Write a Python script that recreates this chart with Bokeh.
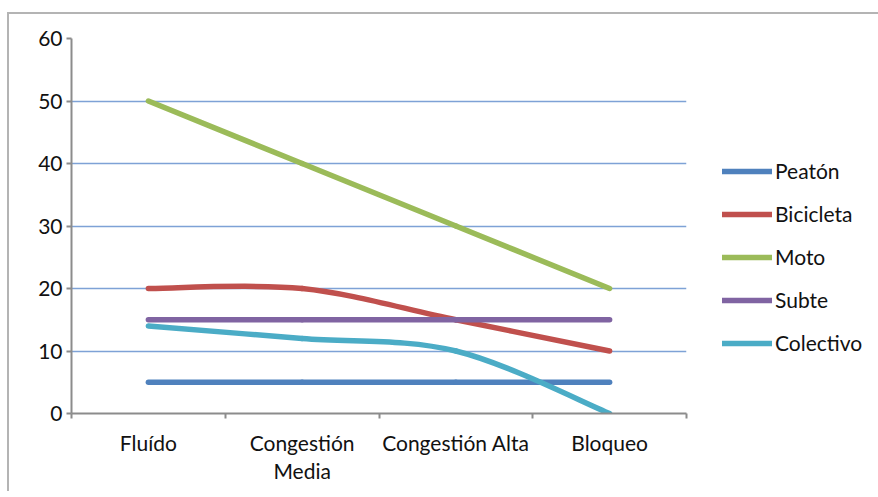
from bokeh.plotting import figure
from bokeh.models import FixedTicker, Legend, LegendItem, ColumnDataSource, Range1d
from bokeh.embed import file_html
from bokeh.resources import INLINE

categories = ["Fluído", "Congestión\nMedia", "Congestión Alta", "Bloqueo"]
series_names = ["Peatón", "Bicicleta", "Moto", "Subte", "Colectivo"]
peaton = [5, 5, 5, 5]
bicicleta = [20, 20, 15, 10]
moto = [50, 40, 30, 20]
subte = [15, 15, 15, 15]
colectivo = [14, 12, 10, 0]
y_ticks = [0, 10, 20, 30, 40, 50, 60]

colors = ["#4F81BD", "#C0504D", "#9BBB59", "#8064A2", "#4BACC6"]
FONT = "Lato"

p = figure(frame_width=615, frame_height=375, output_backend="svg", toolbar_location=None,
           x_range=Range1d(0, len(categories)), y_range=Range1d(0, 60),
           min_border_left=62, min_border_right=10, min_border_top=24, min_border_bottom=78)
p.styles = {"margin-top": "12px", "margin-left": "7px",
            "border-top": "2px solid #b4b4b4", "border-left": "2px solid #b4b4b4"}
p.outline_line_color = None
p.background_fill_color = "white"

xc = [i + 0.5 for i in range(len(categories))]


def smooth_segments(xs, ys):
    # Excel-style smoothed line: cubic Bezier segments (Catmull-Rom control points)
    n = len(xs)
    seg = dict(x0=[], y0=[], x1=[], y1=[], cx0=[], cy0=[], cx1=[], cy1=[])
    for i in range(n - 1):
        pm = max(i - 1, 0)
        pp = min(i + 2, n - 1)
        seg["x0"].append(xs[i]); seg["y0"].append(ys[i])
        seg["x1"].append(xs[i + 1]); seg["y1"].append(ys[i + 1])
        seg["cx0"].append(xs[i] + (xs[i + 1] - xs[pm]) / 6)
        seg["cy0"].append(ys[i] + (ys[i + 1] - ys[pm]) / 6)
        seg["cx1"].append(xs[i + 1] - (xs[pp] - xs[i]) / 6)
        seg["cy1"].append(ys[i + 1] - (ys[pp] - ys[i]) / 6)
    return ColumnDataSource(seg)


items = []
for name, vals, col in zip(series_names, [peaton, bicicleta, moto, subte, colectivo], colors):
    r = p.bezier(x0="x0", y0="y0", x1="x1", y1="y1", cx0="cx0", cy0="cy0", cx1="cx1", cy1="cy1",
                 source=smooth_segments(xc, vals), line_color=col, line_width=5.5, line_cap="round")
    items.append(LegendItem(label=name, renderers=[r]))

legend = Legend(items=items, location=(36, 58), padding=0, margin=0,
                glyph_width=50, glyph_height=20, spacing=18, label_standoff=3,
                border_line_color=None, background_fill_alpha=0,
                label_text_font=FONT, label_text_font_size="21px", label_text_color="#111111")
p.add_layout(legend, "right")

# grid
p.xgrid.grid_line_color = None
p.ygrid.grid_line_color = "#7ea2d6"
p.ygrid.grid_line_width = 1.3
p.ygrid.ticker = FixedTicker(ticks=y_ticks)

# y axis
p.yaxis.ticker = FixedTicker(ticks=y_ticks)
p.yaxis.axis_line_color = "#8c8c8c"
p.yaxis.axis_line_width = 2
p.yaxis.major_tick_line_color = "#8c8c8c"
p.yaxis.major_tick_line_width = 2
p.yaxis.major_tick_in = 0
p.yaxis.major_tick_out = 5
p.yaxis.minor_tick_line_color = None
p.yaxis.major_label_standoff = 4
p.yaxis.major_label_text_font = FONT
p.yaxis.major_label_text_font_size = "21px"
p.yaxis.major_label_text_color = "#111111"

# x axis
p.xaxis.ticker = FixedTicker(ticks=xc, minor_ticks=list(range(len(categories) + 1)))
p.xaxis.major_label_overrides = {c: lab for c, lab in zip(xc, categories)}
p.xaxis.axis_line_color = "#8c8c8c"
p.xaxis.axis_line_width = 2
p.xaxis.major_tick_line_color = None
p.xaxis.major_tick_in = 0
p.xaxis.major_tick_out = 0
p.xaxis.minor_tick_line_color = "#8c8c8c"
p.xaxis.minor_tick_line_width = 2
p.xaxis.minor_tick_in = 0
p.xaxis.minor_tick_out = 5
p.xaxis.major_label_standoff = 11
p.xaxis.major_label_text_font = FONT
p.xaxis.major_label_text_font_size = "21px"
p.xaxis.major_label_text_color = "#111111"
p.xaxis.major_label_text_line_height = 1.15

open("out.html", "w").write(file_html(p, INLINE))
